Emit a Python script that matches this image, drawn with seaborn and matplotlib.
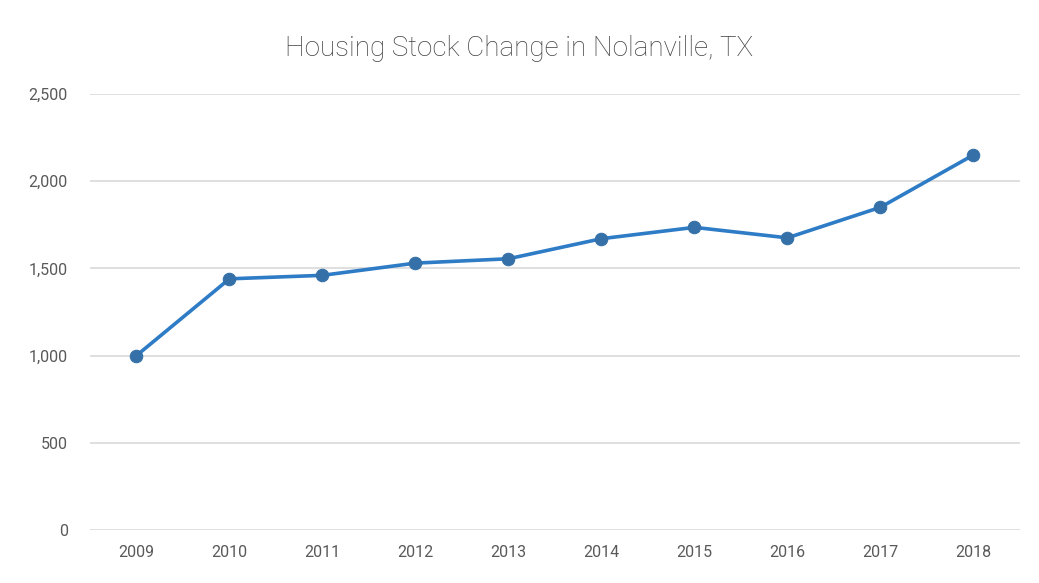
import matplotlib
matplotlib.use("Agg")
import matplotlib.pyplot as plt
import seaborn as sns
import pandas as pd
from matplotlib.ticker import FuncFormatter

# Data
years = ["2009", "2010", "2011", "2012", "2013", "2014", "2015", "2016", "2017", "2018"]
housing_units = [1000, 1440, 1460, 1530, 1555, 1670, 1735, 1675, 1850, 2150]
y_ticks = [0, 500, 1000, 1500, 2000, 2500]

df = pd.DataFrame({"year": years, "units": housing_units})

sns.set_theme(style="white")
plt.rcParams["font.family"] = ["Roboto", "DejaVu Sans"]

fig = plt.figure(figsize=(10.39, 5.83), dpi=100)
ax = fig.add_axes([0.0866, 0.0909, 0.895, 0.748])

# Grey horizontal gridlines behind the line
ax.set_axisbelow(True)
ax.grid(axis="y", color="#d9d9d9", linewidth=1.2)

sns.lineplot(
    data=df,
    x="year",
    y="units",
    sort=False,
    color="#2e7bc6",
    linewidth=2.6,
    marker="o",
    markersize=9,
    markerfacecolor="#3570a8",
    markeredgecolor="#3570a8",
    ax=ax,
)

ax.set_ylim(0, 2500)
ax.set_xlim(-0.5, len(years) - 0.5)
ax.set_yticks(y_ticks)
ax.yaxis.set_major_formatter(FuncFormatter(lambda v, p: f"{int(v):,}"))
ax.set_xlabel("")
ax.set_ylabel("")
ax.tick_params(axis="both", colors="#595959", labelsize=11.5, length=0)
ax.tick_params(axis="y", pad=16)
ax.tick_params(axis="x", pad=11)
for s in ax.spines.values():
    s.set_visible(False)

fig.suptitle("Housing Stock Change in Nolanville, TX", y=0.94,
             fontsize=20, color="#404040", fontweight="light")

plt.savefig("out.png", dpi=100, facecolor="white")
